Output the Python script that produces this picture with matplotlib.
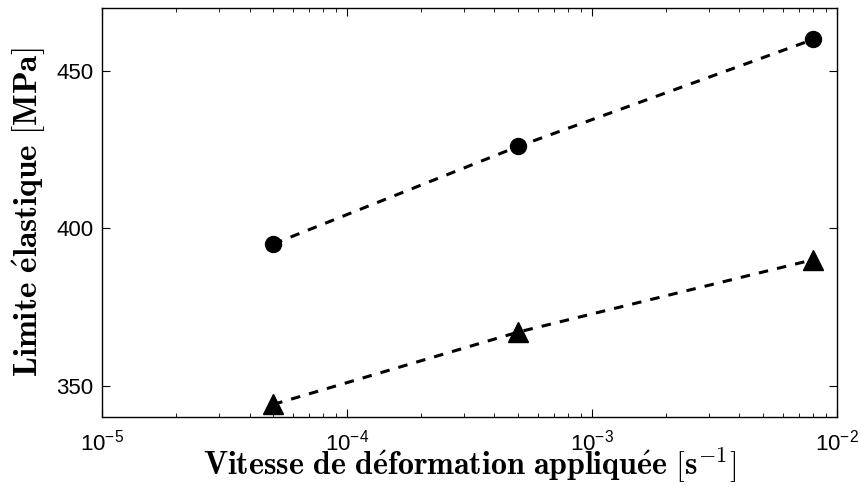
import matplotlib
matplotlib.use("Agg")
import matplotlib.pyplot as plt
from matplotlib.ticker import LogLocator, NullFormatter

plt.rcParams['font.family'] = ['Liberation Sans', 'DejaVu Sans']
plt.rcParams['mathtext.fontset'] = 'custom'
plt.rcParams['mathtext.rm'] = 'Liberation Sans'
plt.rcParams['mathtext.it'] = 'Liberation Sans'
plt.rcParams['mathtext.bf'] = 'Liberation Sans:bold'

# strain rates [1/s]
rates = [5e-5, 5e-4, 8e-3]
# yield stress, two series [MPa]
yield_circle = [395, 426, 460]
yield_triangle = [344, 367, 390]

fig = plt.figure(figsize=(8.61, 4.87), dpi=100)
ax = fig.add_axes([0.1185, 0.1437, 0.8535, 0.84])

ax.plot(rates, yield_circle, 'k--', lw=2.2, marker='o', ms=11.5, dashes=(3.1, 3.0))
ax.plot(rates, yield_triangle, 'k--', lw=2.2, marker='^', ms=15, dashes=(3.1, 3.0))

ax.set_xscale('log')
ax.set_xlim(1e-5, 1e-2)
ax.set_ylim(340, 470)
ax.set_yticks([350, 400, 450])
ax.xaxis.set_minor_locator(LogLocator(base=10, subs=range(2, 10)))
ax.xaxis.set_minor_formatter(NullFormatter())

ax.tick_params(which='both', direction='in', top=True, right=True, labelsize=16)
ax.tick_params(which='major', length=6, pad=6)
ax.tick_params(axis='x', which='major', pad=9)
ax.tick_params(which='minor', length=3)
for s in ax.spines.values():
    s.set_linewidth(1.0)

ax.set_xlabel(r'$\mathbf{Vitesse\ de\ d\acute{e}formation\ appliqu\acute{e}e\ [s^{-1}]}$',
              fontsize=23, math_fontfamily='cm')
ax.xaxis.set_label_coords(0.5, -0.07)
ax.set_ylabel(r'$\mathbf{Limite\ \acute{e}lastique\ [MPa]}$',
              fontsize=24, math_fontfamily='cm', labelpad=6)

fig.savefig('out.png', dpi=100)
